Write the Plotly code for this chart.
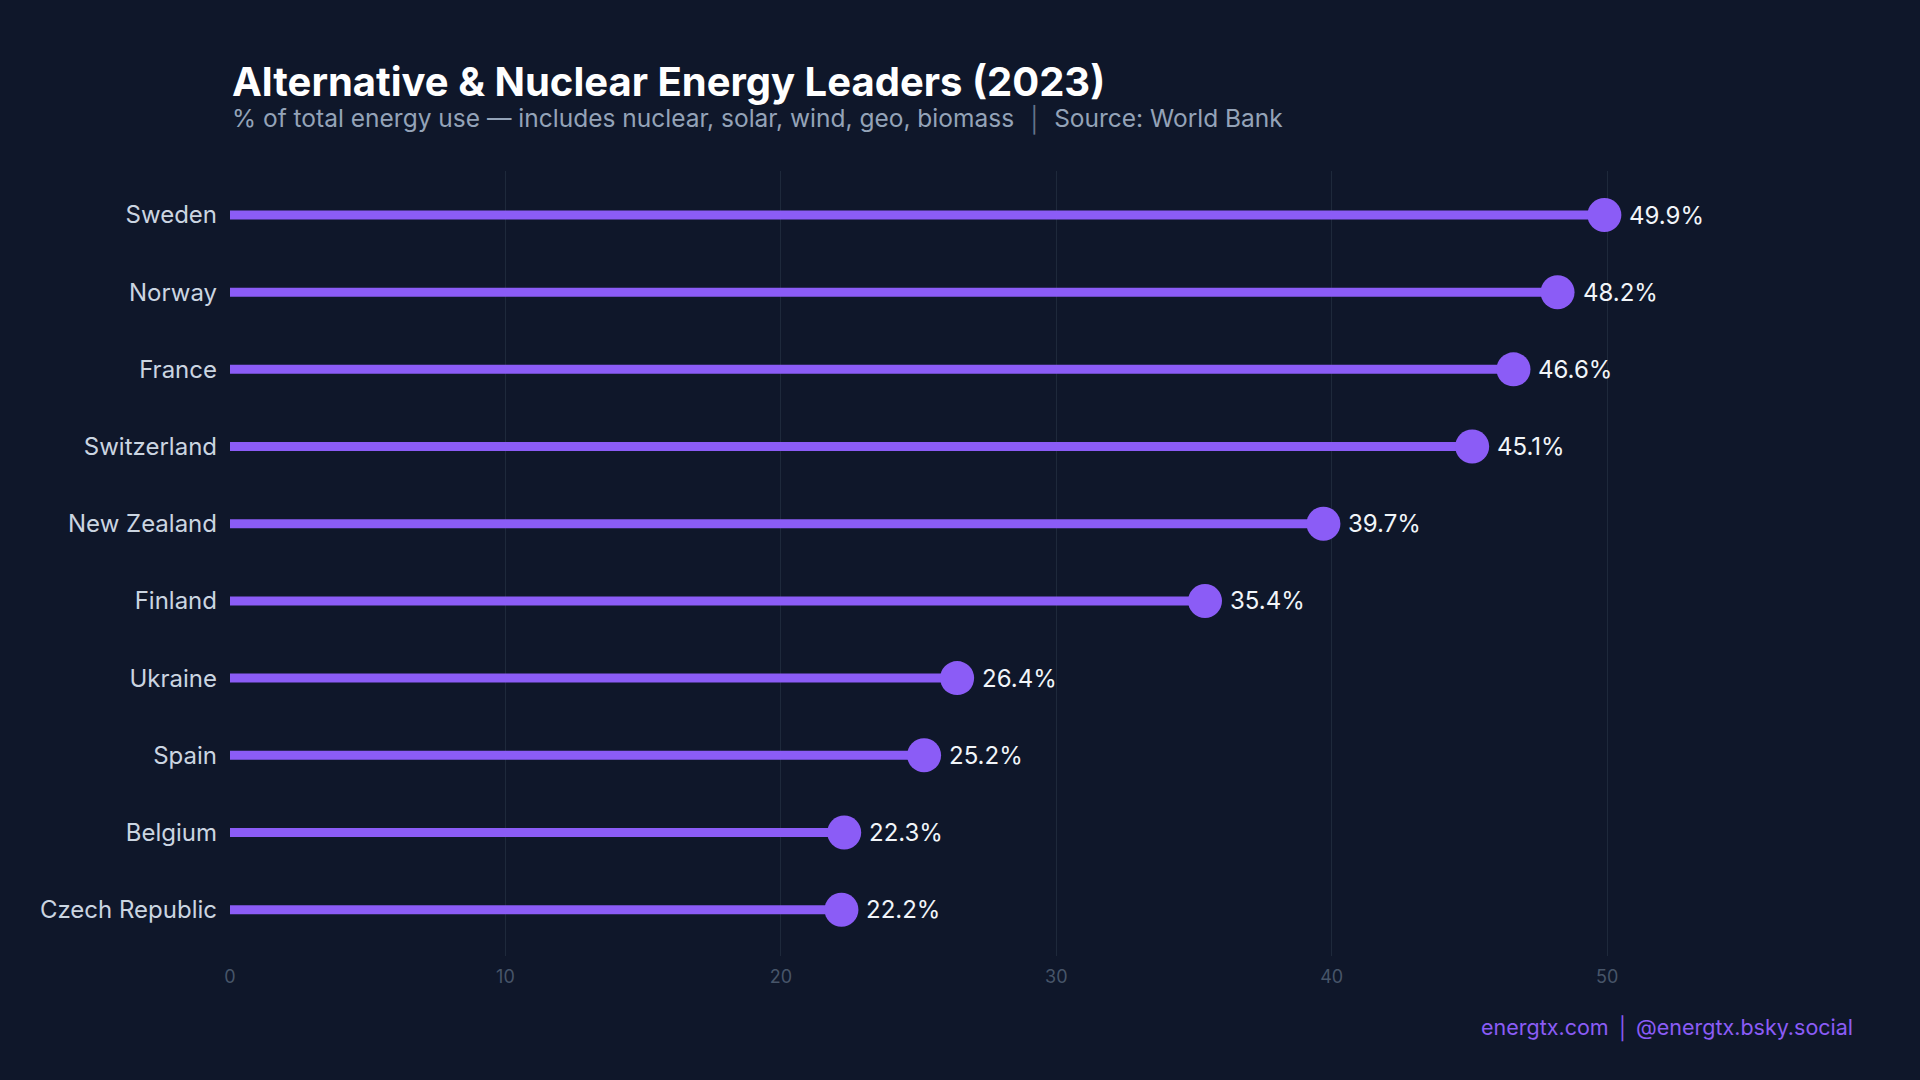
import plotly.graph_objects as go

countries = ["Sweden", "Norway", "France", "Switzerland", "New Zealand",
             "Finland", "Ukraine", "Spain", "Belgium", "Czech Republic"]
values = [49.9, 48.2, 46.6, 45.1, 39.7, 35.4, 26.4, 25.2, 22.3, 22.2]
x_ticks = [0, 10, 20, 30, 40, 50]

BG = "#0f172a"
PURPLE = "#8b5cf6"
FONT = "Inter"

W, H = 1920, 1080
ML, MR, MT, MB = 230, 65, 171, 124
PH = H - MT - MB


def py(px):
    """pixel y (from top) -> paper y"""
    return 1 + (MT - px) / PH


stem_x, stem_y = [], []
for c, v in zip(countries, values):
    stem_x += [0, v, None]
    stem_y += [c, c, None]

fig = go.Figure()
fig.add_trace(go.Scatter(x=stem_x, y=stem_y, mode="lines",
                         line=dict(color=PURPLE, width=9),
                         hoverinfo="skip", showlegend=False))
fig.add_trace(go.Scatter(x=values, y=countries, mode="markers",
                         marker=dict(color=PURPLE, size=34, line=dict(width=0)),
                         showlegend=False))

for c, v in zip(countries, values):
    fig.add_annotation(x=v, y=c, text=f"{v:.1f}%", showarrow=False,
                       xanchor="left", yanchor="middle", xshift=23,
                       font=dict(family=FONT, size=24, color="#f1f5f9"))

fig.add_annotation(xref="paper", yref="paper", x=0, y=py(81),
                   text="<b>Alternative & Nuclear Energy Leaders (2023)</b>",
                   showarrow=False, xanchor="left", yanchor="middle",
                   font=dict(family=FONT, size=40, color="#ffffff"))
fig.add_annotation(xref="paper", yref="paper", x=0, y=py(119),
                   text="% of total energy use — includes nuclear, solar, wind, geo, biomass "
                        "<span style='color:#64748b'>\u2009│\u2009</span> Source: World Bank",
                   showarrow=False, xanchor="left", yanchor="middle",
                   font=dict(family=FONT, size=24.5, color="#94a3b8"))

fig.add_annotation(xref="paper", yref="paper", x=1, y=py(1028),
                   text="energtx.com │ @energtx.bsky.social",
                   showarrow=False, xanchor="right", yanchor="middle",
                   font=dict(family=FONT, size=21.5, color=PURPLE))

fig.update_layout(
    width=W, height=H,
    paper_bgcolor=BG, plot_bgcolor=BG,
    margin=dict(l=ML, r=MR, t=MT, b=MB),
    font=dict(family=FONT),
    xaxis=dict(range=[0, 59], tickvals=x_ticks, showgrid=True,
               gridcolor="#1e293b", gridwidth=1, zeroline=False,
               showline=False, ticks="", ticklabelstandoff=8,
               tickfont=dict(family=FONT, size=18, color="#475569")),
    yaxis=dict(categoryorder="array", categoryarray=countries,
               range=[9.6, -0.57], showgrid=False, zeroline=False,
               showline=False, ticks="", ticklabelstandoff=12,
               tickfont=dict(family=FONT, size=24, color="#cbd5e1")),
)

fig.write_html("out.html", config={"displayModeBar": False},
               post_script="document.body.style.margin='0';")
